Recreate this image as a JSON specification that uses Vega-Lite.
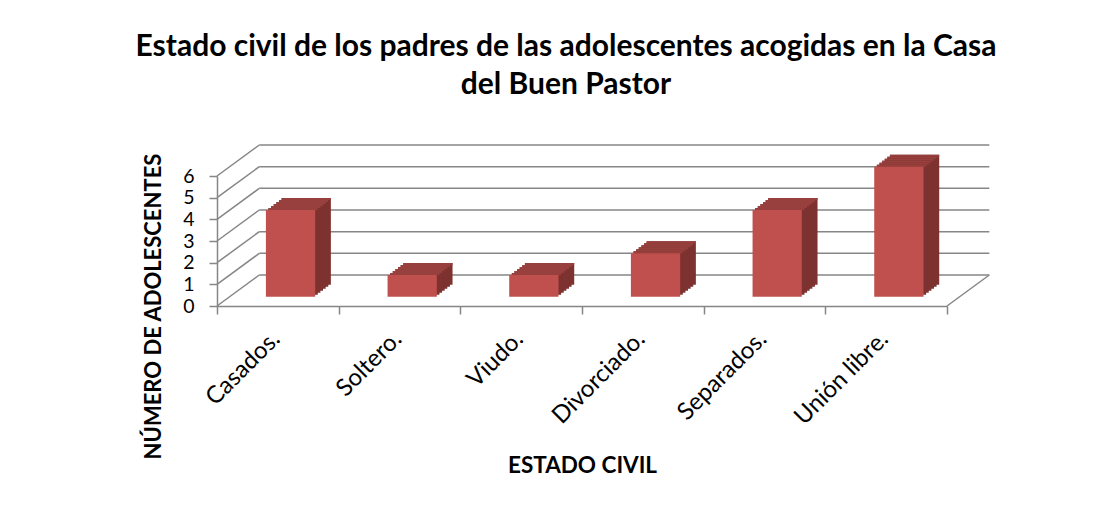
{
  "$schema": "https://vega.github.io/schema/vega-lite/v6.json",
  "width": 730,
  "height": 130,
  "autosize": "none",
  "padding": {"left": 217, "top": 176, "right": 169, "bottom": 202},
  "background": "white",
  "title": {
    "text": ["Estado civil de los padres de las adolescentes acogidas en la Casa", "del Buen Pastor"],
    "font": "Lato", "fontSize": 30, "fontWeight": "bold", "color": "#000000",
    "lineHeight": 38, "anchor": "middle", "dx": -16, "offset": 44
  },
  "config": {
    "view": {"stroke": null},
    "axis": {
      "domainColor": "#868686", "domainWidth": 1.5, "tickColor": "#868686", "tickWidth": 1.5,
      "tickSize": 8, "labelColor": "#000000", "labelFont": "Lato", "titleFont": "Lato",
      "titleColor": "#000000", "grid": false, "labelOverlap": false
    },
    "axisY": {"labelOverlap": false, "labelFontSize": 19.5, "labelPadding": 15, "tickCount": 7}
  },
  "datasets": {
    "main": [
      {"estado": "Casados.", "n": 4},
      {"estado": "Soltero.", "n": 1},
      {"estado": "Viudo.", "n": 1},
      {"estado": "Divorciado.", "n": 2},
      {"estado": "Separados.", "n": 4},
      {"estado": "Unión libre.", "n": 6}
    ],
    "grid": [
      {"v": 0, "a": 0, "b": 6}, {"v": 1, "a": 0, "b": 6}, {"v": 2, "a": 0, "b": 6},
      {"v": 3, "a": 0, "b": 6}, {"v": 4, "a": 0, "b": 6}, {"v": 5, "a": 0, "b": 6},
      {"v": 6, "a": 0, "b": 6}
    ]
  },
  "layer": [
    {
      "data": {"name": "grid"},
      "layer": [
        {
          "mark": {"type": "rule", "color": "#868686", "strokeWidth": 1.5, "xOffset": 42.3, "x2Offset": 42.3, "yOffset": -31},
          "encoding": {
            "x": {"field": "a", "type": "quantitative", "scale": {"domain": [0, 6], "nice": false, "zero": false}, "axis": null},
            "x2": {"field": "b"},
            "y": {"field": "v", "type": "quantitative", "title": "NÚMERO DE ADOLESCENTES"}
          }
        },
        {
          "mark": {"type": "rule", "color": "#868686", "strokeWidth": 1.5, "x2Offset": 42.3, "y2Offset": -31},
          "encoding": {
            "x": {"field": "a", "type": "quantitative", "scale": {"domain": [0, 6], "nice": false, "zero": false}, "axis": null},
            "x2": {"field": "a"},
            "y": {"field": "v", "type": "quantitative", "title": "NÚMERO DE ADOLESCENTES"},
            "y2": {"field": "v"}
          }
        },
        {
          "transform": [{"filter": "datum.v == 0"}],
          "mark": {"type": "rule", "color": "#868686", "strokeWidth": 1.5, "x2Offset": 42.3, "y2Offset": -31},
          "encoding": {
            "x": {"field": "b", "type": "quantitative", "scale": {"domain": [0, 6], "nice": false, "zero": false}, "axis": null},
            "x2": {"field": "b"},
            "y": {"field": "v", "type": "quantitative", "title": "NÚMERO DE ADOLESCENTES"},
            "y2": {"field": "v"}
          }
        }
      ]
    },
    {
      "data": {"name": "main"},
      "encoding": {
        "x": {
          "field": "estado", "type": "nominal", "sort": null,
          "scale": {"paddingInner": 0, "paddingOuter": 0},
          "axis": {
            "title": "ESTADO CIVIL", "titleFontSize": 22.5, "titleFontWeight": "bold", "titleY": 159, "titleBaseline": "middle",
            "labelAngle": -45, "labelAlign": "right", "labelBaseline": "middle", "labelFontSize": 24, "labelPadding": 21,
            "labelOffset": -2, "tickBand": "extent", "labelOverlap": false
          }
        },
        "y": {
          "field": "n", "type": "quantitative", "title": "NÚMERO DE ADOLESCENTES",
          "scale": {"domain": [0, 6], "nice": false},
          "axis": {
            "tickCount": 7, "labelOverlap": false, "labelFontSize": 19.5, "labelPadding": 15,
            "titleFontSize": 22, "titleFontWeight": "bold", "titleX": -64, "titleY": 130,
            "titleAngle": -90, "titleAlign": "center", "titleBaseline": "middle"
          }
        }
      },
      "layer": [
        {"mark": {"type": "bar", "color": "#7d3230", "width": {"band": 0.405}, "xOffset": 28.4, "x2Offset": 28.4, "yOffset": -21.3, "y2Offset": -21.3}},
        {"mark": {"type": "bar", "color": "#97403d", "width": {"band": 0.405}, "xOffset": 28.4, "x2Offset": 28.4, "yOffset": -21.3, "y2Offset": -19.3}, "encoding": {"y2": {"field": "n"}}},
        {"mark": {"type": "bar", "color": "#7d3230", "width": {"band": 0.405}, "xOffset": 25.8, "x2Offset": 25.8, "yOffset": -19.3, "y2Offset": -19.3}},
        {"mark": {"type": "bar", "color": "#97403d", "width": {"band": 0.405}, "xOffset": 25.8, "x2Offset": 25.8, "yOffset": -19.3, "y2Offset": -17.3}, "encoding": {"y2": {"field": "n"}}},
        {"mark": {"type": "bar", "color": "#7d3230", "width": {"band": 0.405}, "xOffset": 23.2, "x2Offset": 23.2, "yOffset": -17.3, "y2Offset": -17.3}},
        {"mark": {"type": "bar", "color": "#97403d", "width": {"band": 0.405}, "xOffset": 23.2, "x2Offset": 23.2, "yOffset": -17.3, "y2Offset": -15.3}, "encoding": {"y2": {"field": "n"}}},
        {"mark": {"type": "bar", "color": "#7d3230", "width": {"band": 0.405}, "xOffset": 20.55, "x2Offset": 20.55, "yOffset": -15.3, "y2Offset": -15.3}},
        {"mark": {"type": "bar", "color": "#97403d", "width": {"band": 0.405}, "xOffset": 20.55, "x2Offset": 20.55, "yOffset": -15.3, "y2Offset": -13.3}, "encoding": {"y2": {"field": "n"}}},
        {"mark": {"type": "bar", "color": "#7d3230", "width": {"band": 0.405}, "xOffset": 17.93, "x2Offset": 17.93, "yOffset": -13.3, "y2Offset": -13.3}},
        {"mark": {"type": "bar", "color": "#97403d", "width": {"band": 0.405}, "xOffset": 17.93, "x2Offset": 17.93, "yOffset": -13.3, "y2Offset": -11.3}, "encoding": {"y2": {"field": "n"}}},
        {"mark": {"type": "bar", "color": "#7d3230", "width": {"band": 0.405}, "xOffset": 15.32, "x2Offset": 15.32, "yOffset": -11.3, "y2Offset": -11.3}},
        {"mark": {"type": "bar", "color": "#97403d", "width": {"band": 0.405}, "xOffset": 15.32, "x2Offset": 15.32, "yOffset": -11.3, "y2Offset": -9.3}, "encoding": {"y2": {"field": "n"}}},
        {"mark": {"type": "bar", "color": "#c0504d", "width": {"band": 0.405}, "xOffset": 12.7, "x2Offset": 12.7, "yOffset": -9.3, "y2Offset": -9.3}}
      ]
    }
  ],
  "resolve": {"scale": {"x": "independent"}}
}
